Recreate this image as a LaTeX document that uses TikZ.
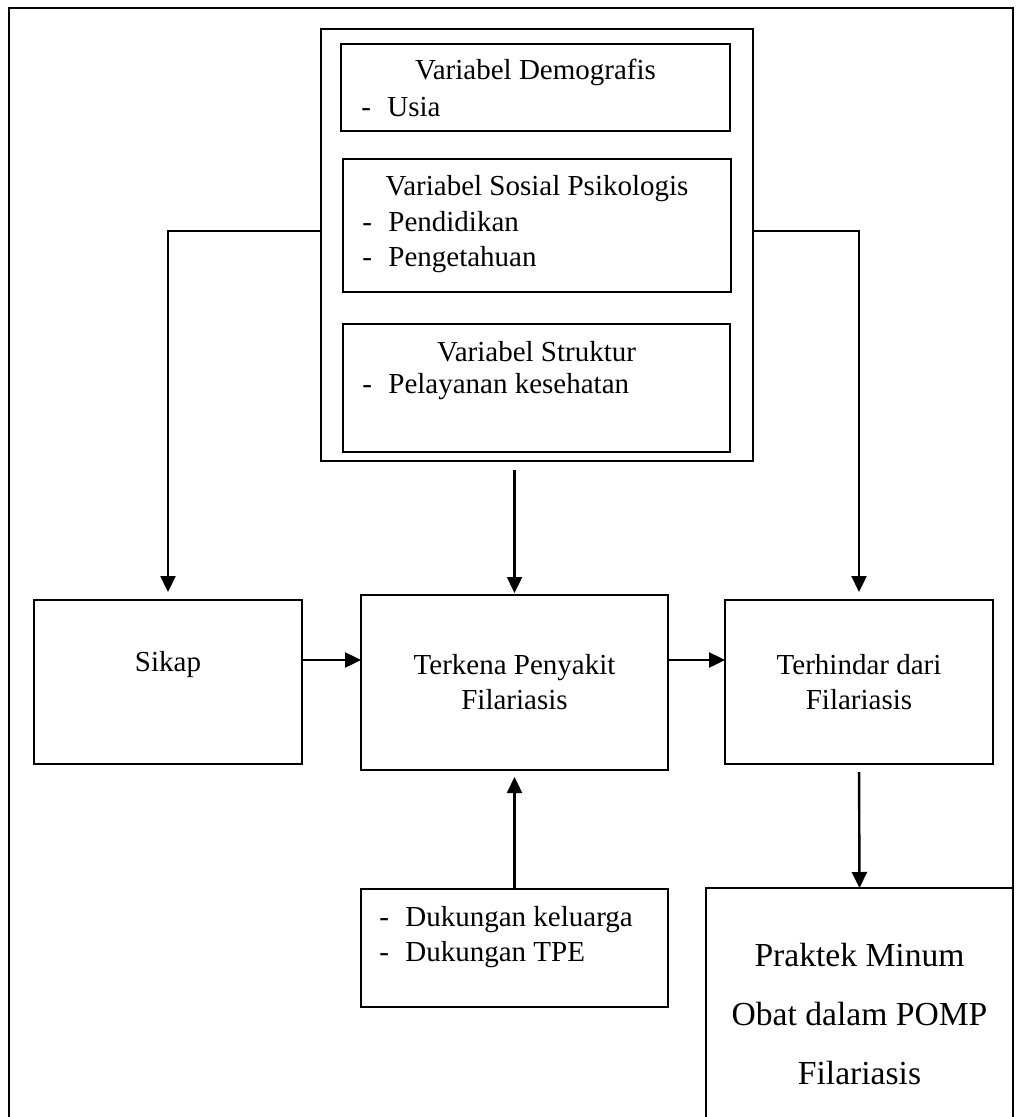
\documentclass[tikz,border=0pt]{standalone}
\usepackage{fontspec}
\setmainfont{Liberation Serif}
\usetikzlibrary{arrows.meta}
\newcommand{\itm}[1]{\makebox[13pt][l]{-}#1}

\begin{document}
\begin{tikzpicture}[x=0.5pt, y=-0.5pt,
  box/.style={draw, line width=0.9pt, inner sep=0pt, outer sep=0pt},
  txt/.style={font=\fontsize{14.5}{17.5}\selectfont, inner sep=0pt},
  arr/.style={-{Triangle[length=8pt,width=7.5pt]}, line width=1.2pt}]
  \clip (0,0) rectangle (1019,1117);
  \fill[white] (0,0) rectangle (1019,1117);
  \draw[line width=0.9pt] (9,1130) -- (9,8) -- (1013,8) -- (1013,1130);

  % variabel group
  \node[box, minimum width=216pt, minimum height=216pt] (factors) at (537,245) {};
  \node[box, minimum width=194.5pt, minimum height=43.5pt] (demo) at (535.5,87.5) {};
  \node[box, minimum width=194pt, minimum height=66.5pt] (sospsi) at (537,225.5) {};
  \node[box, minimum width=193.5pt, minimum height=64pt] (struktur) at (536.5,388) {};

  \node[txt] (demoHead) at (535.5,72) {Variabel Demografis};
  \node[txt, anchor=west] (demoList) at (361,107) {\itm{Usia}};
  \node[txt] (sospsiHead) at (537,189) {Variabel Sosial Psikologis};
  \node[txt, anchor=west, align=left] (sospsiList) at (362,242) {\itm{Pendidikan}\\\itm{Pengetahuan}};
  \node[txt] (strukturHead) at (536.5,352) {Variabel Struktur};
  \node[txt, anchor=west] (strukturList) at (362,387) {\itm{Pelayanan kesehatan}};

  % middle row
  \node[box, minimum width=134pt, minimum height=82pt] (sikap) at (168,682) {};
  \node[txt] (sikapTxt) at (168,665) {Sikap};
  \node[box, txt, align=center, minimum width=153.5pt, minimum height=87.5pt] (terkena) at (514.5,682.5) {Terkena Penyakit\\Filariasis};
  \node[box, txt, align=center, minimum width=134pt, minimum height=82pt] (terhindar) at (859,682) {Terhindar dari\\Filariasis};

  % bottom row
  \node[box, minimum width=153.5pt, minimum height=59pt] (dukungan) at (514.5,948) {};
  \node[txt, anchor=west, align=left] (dukunganList) at (379,937.5) {\itm{Dukungan keluarga}\\\itm{Dukungan TPE}};
  \node[box, minimum width=153.5pt, minimum height=118.5pt] (praktek) at (859.5,1006.5) {};
  \node[align=center, inner sep=0pt, font=\fontsize{16.8}{29.5}\selectfont] (praktekTxt) at (859.5,1014) {Praktek Minum\\Obat dalam POMP\\Filariasis};

  % arrows
  \draw[arr, shorten >=4pt] (factors.west |- 0,231) -| (sikap.north);
  \draw[arr, shorten >=4pt] (factors.east |- 0,231) -| (terhindar.north);
  \draw[arr, shorten <=4.5pt, shorten >=1pt] (terkena.north |- factors.south) -- (terkena.north);
  \draw[arr] (sikap.east |- 0,660) -- (terkena.west |- 0,660);
  \draw[arr] (terkena.east |- 0,660) -- (terhindar.west |- 0,660);
  \draw[arr, shorten >=3.5pt] (dukungan.north) -- (terkena.south);
  \draw[arr, shorten <=4pt] (terhindar.south) -- (praktek.north);
\end{tikzpicture}
\end{document}
